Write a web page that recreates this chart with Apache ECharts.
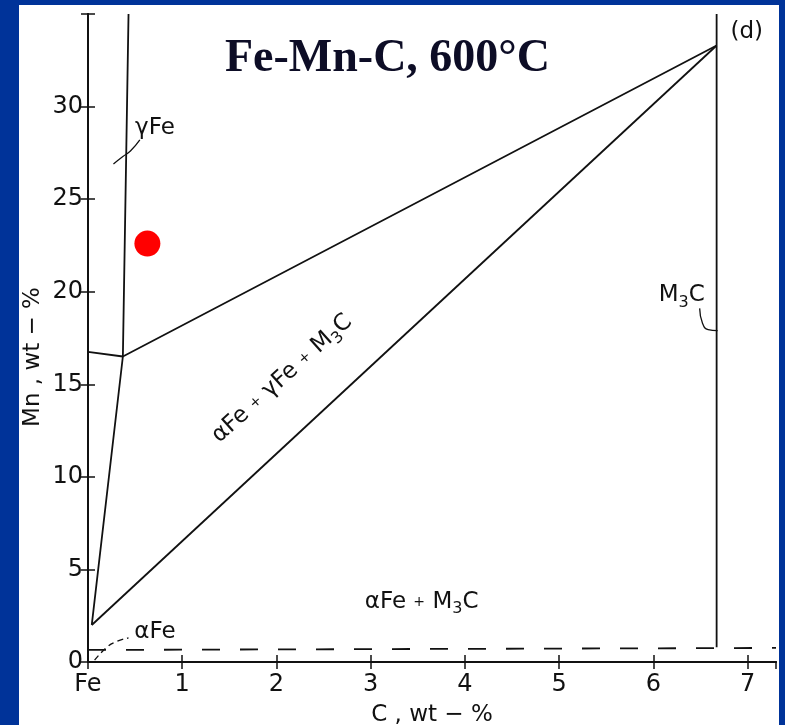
<!DOCTYPE html>
<html>
<head>
<meta charset="utf-8">
<script src="https://cdn.jsdelivr.net/npm/echarts@6/dist/echarts.min.js"></script>
<style>
  html, body { margin: 0; padding: 0; background: #003399; }
  #chart { position: absolute; left: 19px; top: 5px; width: 760px; height: 720px; background: #fff; }
</style>
</head>
<body>
<div id="chart"></div>
<script>
// axis ticks
const xTicks = [0, 1, 2, 3, 4, 5, 6, 7]
const yTicks = [0, 5, 10, 15, 20, 25, 30]

// phase boundaries (C wt-%, Mn wt-%)
const gammaBoundary = [[0.04, 2.0], [0.37, 16.5], [0.43, 35]]
const upperTie = [[0, 16.75], [0.37, 16.5], [6.67, 33.3]]
const lowerTie = [[0.04, 2.0], [6.67, 33.3]]
const cementiteLine = [[6.67, 35], [6.67, 0.8]]
const alphaLimit = [[0, 0.65], [7.3, 0.76]]

// label leaders
const gammaLeader = [[0.27, 26.9], [0.37, 27.3], [0.45, 27.6], [0.55, 28.2]]
const alphaLeader = [[0.07, 0.1], [0.2, 0.8], [0.3, 1.1], [0.43, 1.3]]
const m3cLeader = [[6.49, 19.1], [6.52, 18.3], [6.58, 17.95], [6.68, 17.9]]

// marker
const redDot = [[0.63, 22.6]]

// text labels
const labelTexts = ['{t|γFe}', '{t|αFe}', '{t|αFe }{p|+}{t| M}{s|3}{t|C}', '{t|αFe }{p|+}{t| γFe }{p|+}{t| M}{s|3}{t|C}', '{t|M}{s|3}{t|C}', '{t|(d)}']
const labelPos = [[0.71, 28.85], [0.71, 1.62], [3.54, 3.24], [2.06, 15.3], [6.3, 19.8], [6.99, 34.0]]
const labelRotate = [0, 0, 0, 42, 0, 0]

const ink = '#111'
const chart = echarts.init(document.getElementById('chart'))

const axisCommon = {
  type: 'value',
  axisLine: { show: true, lineStyle: { color: ink, width: 2 } },
  axisTick: { show: true, inside: true, length: 7, lineStyle: { color: ink, width: 1.5 } },
  splitLine: { show: false }
}

function lineSeries(data, opts) {
  return Object.assign({
    type: 'line',
    data: data,
    symbol: 'none',
    silent: true,
    lineStyle: { color: ink, width: 1.8 }
  }, opts || {})
}

const rich = {
  t: { fontSize: 23, color: ink, fontFamily: 'DejaVu Sans' },
  s: { fontSize: 16, color: ink, fontFamily: 'DejaVu Sans', padding: [14, 0, 0, 0] },
  p: { fontSize: 14, color: ink, fontFamily: 'DejaVu Sans' }
}

const option = {
  animation: false,
  grid: { left: 69, right: 3, top: 9, bottom: 63, containLabel: false, outerBoundsMode: 'none' },
  xAxis: [
    Object.assign({}, axisCommon, {
      min: 0, max: 7.3, interval: 1,
      axisLabel: {
        fontSize: 24, color: ink, margin: 11, fontFamily: 'DejaVu Sans',
        showMaxLabel: false,
        formatter: v => (v === 0 ? 'Fe' : (xTicks.indexOf(v) >= 0 ? String(v) : ''))
      },
      name: 'C , wt − %',
      nameLocation: 'middle',
      nameGap: 42,
      nameTextStyle: { fontSize: 23, color: ink, fontFamily: 'DejaVu Sans' }
    }),
    Object.assign({}, axisCommon, {
      position: 'top', min: 0, max: 7.3, interval: 1,
      axisLabel: { show: false }
    })
  ],
  yAxis: [
    Object.assign({}, axisCommon, {
      min: 0, max: 35, interval: 5,
      axisLabel: {
        fontSize: 24, color: ink, margin: 5, fontFamily: 'DejaVu Sans',
        formatter: v => (yTicks.indexOf(v) >= 0 ? String(v) : '')
      }
    }),
    Object.assign({}, axisCommon, {
      position: 'right', min: 0, max: 35, interval: 5,
      axisLabel: { show: false }
    })
  ],
  graphic: [
    {
      type: 'text', left: 206, top: 31, z: 10,
      style: { text: 'Fe-Mn-C, 600°C', font: 'bold 46px "Liberation Serif"', fill: '#0d0d26' }
    },
    {
      type: 'text', x: 14, y: 352, rotation: Math.PI / 2, z: 10,
      style: { text: 'Mn , wt − %', font: '23px "DejaVu Sans"', fill: ink, align: 'center', verticalAlign: 'middle' }
    }
  ],
  series: [
    lineSeries(gammaBoundary),
    lineSeries(upperTie),
    lineSeries(lowerTie),
    lineSeries(cementiteLine),
    lineSeries(alphaLimit, { lineStyle: { color: ink, width: 1.8, type: [18, 20] } }),
    lineSeries(gammaLeader, { smooth: true, lineStyle: { color: ink, width: 1.3 } }),
    lineSeries(alphaLeader, { smooth: true, lineStyle: { color: ink, width: 1.3, type: [6, 4] } }),
    lineSeries(m3cLeader, { smooth: true, lineStyle: { color: ink, width: 1.3 } }),
    {
      type: 'scatter',
      data: redDot,
      symbolSize: 26,
      itemStyle: { color: '#ff0000', opacity: 1 },
      silent: true,
      z: 5
    },
    {
      type: 'scatter',
      symbolSize: 0,
      silent: true,
      itemStyle: { opacity: 1 },
      data: labelPos.map((p, i) => ({
        value: p,
        label: {
          show: true,
          position: 'inside',
          color: ink,
          textBorderWidth: 0,
          rotate: labelRotate[i],
          formatter: labelTexts[i],
          rich: rich
        }
      }))
    }
  ]
}

chart.setOption(option)
</script>
</body>
</html>
